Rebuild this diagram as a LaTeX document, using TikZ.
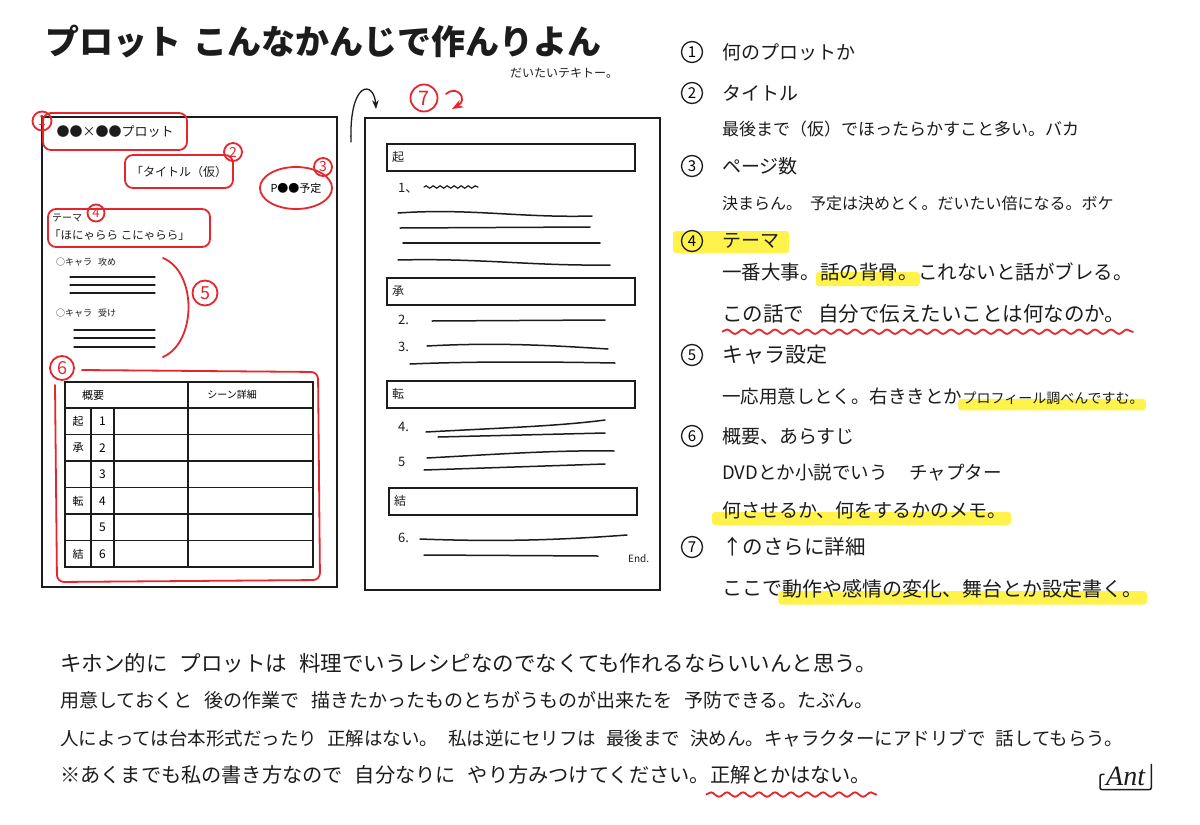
\documentclass[tikz,border=0pt]{standalone}
\usepackage{fontspec}
\setmainfont{Noto Sans CJK JP}
\newfontfamily\signfont{Liberation Serif}
\usetikzlibrary{arrows.meta,positioning,calc,decorations.pathmorphing,shapes.geometric,backgrounds}
\definecolor{PenRed}{HTML}{E6262C}
\definecolor{MarkYellow}{HTML}{FFF24A}
\definecolor{InkBlack}{HTML}{1C1C1C}
\newcommand{\fs}[1]{\fontsize{#1}{#1}\selectfont}

\begin{document}
\begin{tikzpicture}[x=1pt,y=-1pt,>=Stealth,
  ink/.style={draw=InkBlack,line width=1.5pt,line cap=round},
  redpen/.style={draw=PenRed,line width=1.8pt,line cap=round,rounded corners=7pt},
  redbox/.style={draw=PenRed,line width=1.8pt,rounded corners=8pt,text=InkBlack,inner sep=0pt},
  txt/.style={inner sep=0pt,anchor=west,text=InkBlack,font=\fs{19}},
  cnum/.style={circle,draw=InkBlack,line width=1.3pt,minimum size=21pt,inner sep=0pt,font=\fs{15}},
  rnum/.style={circle,draw=PenRed,text=PenRed,line width=1.8pt,minimum size=19pt,inner sep=0pt,font=\fs{14}},
  pagebox/.style={draw=InkBlack,line width=1.8pt,inner sep=0pt},
  secbox/.style={draw=InkBlack,line width=1.5pt,minimum width=248pt,minimum height=27pt,anchor=north west,inner sep=0pt},
  wavy/.style={draw=PenRed,line width=1.8pt,decorate,decoration={snake,segment length=16pt,amplitude=2.2pt}}
]
\useasboundingbox (0,0) rectangle (1200,825);

\node[txt,font=\fs{34}\bfseries] (title) at (45,42) {プロット\hspace{12pt}こんなかんじで作んりよん};
\node[txt,font=\fs{12}] (sub) at (510,73) {だいたいテキトー。};

\node[pagebox,minimum width=295pt,minimum height=470pt] (pgL) at (189.5,352) {};
\node[pagebox,minimum width=295pt,minimum height=472pt] (pgR) at (512.5,354) {};

\node[redbox,minimum width=144pt,minimum height=37pt,font=\fs{13}] (lplot) at (115,131.5) {●●×●●プロット};
\node[rnum] (n1) at (42,121) {1};
\node[redbox,minimum width=108pt,minimum height=33pt,font=\fs{12}] (ltitle) at (179,171.5) {「タイトル（仮）};
\node[rnum,minimum size=18pt] (n2) at (233,152) {2};
\node[ellipse,draw=PenRed,line width=1.8pt,minimum width=68pt,minimum height=42pt,inner sep=0pt,font=\fs{11}] (lpage) at (296,188) {P●●予定};
\node[rnum,minimum size=18pt] (n3) at (323,167) {3};
\node[redbox,minimum width=162pt,minimum height=38pt] (ltheme) at (129,228) {};
\node[txt,font=\fs{10}] (lthemelab) at (52,218) {テーマ};
\node[rnum,minimum size=17pt,font=\fs{13}] (n4) at (96,213) {4};
\node[txt,font=\fs{11.5}] (lthemetxt) at (49,235) {「ほにゃらら こにゃらら」};
\node[txt,font=\fs{9}] (chara1) at (56,262) {○キャラ\hspace{6pt}攻め};
\foreach \yy in {277,285,293} \draw[ink,line width=1.3pt] (70,\yy) -- (155,\yy);
\node[txt,font=\fs{9}] (chara2) at (56,313) {○キャラ\hspace{6pt}受け};
\foreach \yy in {330,338,347} \draw[ink,line width=1.3pt] (74,\yy) -- (155,\yy);
\draw[redpen] (163,258) .. controls (197,272) and (197,342) .. (163,357);
\node[rnum,minimum size=25pt,font=\fs{18}] (n5) at (205,293) {5};

\node[rnum,minimum size=24pt,font=\fs{18}] (n6) at (62,368) {6};
\draw[redpen] (82,370) -- (318,372) -- (320,580) -- (57,582) -- (55,385);
\draw[ink,line width=1.6pt] (65,382) rectangle (313,567);
\draw[ink] (65,408) -- (313,408);
\foreach \yy in {434.5,461,487.5,514,540.5} \draw[ink,line width=1.3pt] (65,\yy) -- (313,\yy);
\draw[ink] (91,408) -- (91,567) (114,408) -- (114,567) (188,382) -- (188,567);
\node[font=\fs{11}] (hgaiyo) at (93,395) {概要};
\node[font=\fs{10}] (hscene) at (232,395) {シーン詳細};
\foreach \lab/\num [count=\i] in {起/1,承/2,/3,転/4,/5,結/6}{
  \node[font=\fs{11}] (k\i) at (78,{408+26.5*\i-13}) {\lab};
  \node[font=\fs{12}] (c\i) at (102.5,{408+26.5*\i-13}) {\num};
}

\coordinate (arrS) at (351,142);
\coordinate (arrE) at (376,109);
\draw[ink,->,line width=1.3pt] (arrS) .. controls (349,80) and (374,80) .. (arrE);
\node[rnum,minimum size=27pt,font=\fs{20}] (n7) at (424,98) {7};
\coordinate (hookS) at (446,94);
\coordinate (hookE) at (452,109);
\draw[draw=PenRed,line width=1.8pt,line cap=round,->] (hookS) .. controls (458,84) and (468,100) .. (hookE);

\node[secbox] (ski) at (386,143) {};
\node[txt,font=\fs{12},right=6pt of ski.west] (lki) {起};
\node[txt,font=\fs{13}] (p1) at (398,188) {1、};
\draw[ink,line width=1.2pt,decorate,decoration={snake,segment length=7pt,amplitude=1.2pt}] (424,187) -- (478,187);
\draw[ink] (398,213) .. controls (470,208) and (520,218) .. (592,216);
\draw[ink] (400,228) -- (590,227);
\draw[ink] (403,243) -- (600,243);
\draw[ink] (398,260) .. controls (480,258) and (530,266) .. (610,265);
\node[secbox] (sshou) at (386,277) {};
\node[txt,font=\fs{12},right=6pt of sshou.west] (lshou) {承};
\node[txt,font=\fs{13}] (p2) at (398,320) {2.};
\draw[ink] (432,321) -- (605,320);
\node[txt,font=\fs{13}] (p3) at (398,347) {3.};
\draw[ink] (427,346) .. controls (500,342) and (560,346) .. (608,349);
\draw[ink] (410,364) .. controls (480,361) and (560,362) .. (615,363);
\node[secbox] (sten) at (386,380) {};
\node[txt,font=\fs{12},right=6pt of sten.west] (lten) {転};
\node[txt,font=\fs{13}] (p4) at (398,427) {4.};
\draw[ink] (426,432) .. controls (500,428) and (560,426) .. (605,420);
\draw[ink] (438,437) -- (605,433);
\node[txt,font=\fs{13}] (p5) at (398,462) {5};
\draw[ink] (427,458) .. controls (500,454) and (560,450) .. (614,451);
\draw[ink] (424,470) -- (605,464);
\node[secbox] (sketsu) at (388,487) {};
\node[txt,font=\fs{12},right=6pt of sketsu.west] (lketsu) {結};
\node[txt,font=\fs{13}] (p6) at (398,538) {6.};
\draw[ink] (420,539) .. controls (500,542) and (560,540) .. (627,535);
\draw[ink] (424,555) -- (598,556);
\node[txt,font=\fs{10}] (lend) at (628,559) {End.};

\node[cnum] (r1) at (692,52) {1};
\node[txt] (t1) at (722,52) {何のプロットか};
\node[cnum] (r2) at (692,93) {2};
\node[txt] (t2) at (722,93) {タイトル};
\node[txt,font=\fs{17}] (t2a) at (722,129) {最後まで（仮）でほったらかすこと多い。バカ};
\node[cnum] (r3) at (692,166) {3};
\node[txt] (t3) at (722,166) {ページ数};
\node[txt,font=\fs{16}] (t3a) at (722,203) {決まらん。\hspace{8pt}予定は決めとく。だいたい倍になる。ボケ};
\node[cnum] (r4) at (692,241) {4};
\node[txt] (t4) at (722,241) {テーマ};
\node[txt,font=\fs{19.5}] (t4a) at (722,272) {一番大事。};
\node[txt,font=\fs{19.5},right=0pt of t4a] (t4b) {話の背骨。};
\node[txt,font=\fs{19.5},right=0pt of t4b] (t4c) {これないと話がブレる。};
\node[txt,font=\fs{20.5}] (t4d) at (722,314) {この話で\hspace{14pt}自分で伝えたいことは何なのか。};
\draw[wavy] ($(t4d.south west)+(0,8)$) -- ($(t4d.south east)+(8,8)$);
\node[cnum] (r5) at (692,355) {5};
\node[txt,font=\fs{21}] (t5) at (722,355) {キャラ設定};
\node[txt,font=\fs{18.5}] (t5a) at (722,397) {一応用意しとく。右ききとか};
\node[txt,font=\fs{14},base right=0pt of t5a] (t5b) {プロフィール調べんですむ。};
\node[cnum] (r6) at (692,436) {6};
\node[txt] (t6) at (722,436) {概要、あらすじ};
\node[txt,font=\fs{18.5}] (t6a) at (722,473) {DVDとか小説でいう\hspace{22pt}チャプター};
\node[txt] (t6b) at (722,510) {何させるか、何をするかのメモ。};
\node[cnum] (r7) at (692,547) {7};
\node[txt,font=\fs{20.5}] (t7) at (722,547) {↑のさらに詳細};
\node[txt,font=\fs{20}] (t7a) at (722,589) {ここで};
\node[txt,font=\fs{20},right=0pt of t7a] (t7b) {動作や感情の変化、舞台とか設定書く。};

\node[txt,font=\fs{21.5}] (b1) at (60,663) {キホン的に\hspace{12pt}プロットは\hspace{12pt}料理でいうレシピなのでなくても作れるならいいんと思う。};
\node[txt,font=\fs{19}] (b2) at (60,700) {用意しておくと\hspace{12pt}後の作業で\hspace{12pt}描きたかったものとちがうものが出来たを\hspace{12pt}予防できる。たぶん。};
\node[txt,font=\fs{18.5}] (b3) at (60,738) {人によっては台本形式だったり\hspace{10pt}正解はない。\hspace{10pt}私は逆にセリフは\hspace{10pt}最後まで\hspace{10pt}決めん。キャラクターにアドリブで\hspace{10pt}話してもらう。};
\node[txt,font=\fs{20.2}] (b4a) at (60,775) {※あくまでも私の書き方なので\hspace{12pt}自分なりに\hspace{12pt}やり方みつけてください。\hspace{12pt}};
\node[txt,font=\fs{20.2},right=0pt of b4a] (b4b) {正解とかはない。};
\draw[wavy] ($(b4b.south west)+(-4,10)$) -- ($(b4b.south east)+(6,10)$);

\node[txt,font=\signfont\itshape\fs{28}] (sig) at (1106,776) {Ant};
\draw[ink,rounded corners=2pt] ($(sig.north west)+(-2,8)$) -- ($(sig.north west)+(-6,8)$) -- ($(sig.south west)+(-6,4)$) -- ($(sig.south east)+(6,4)$) -- ($(sig.north east)+(6,-2)$);

\begin{scope}[on background layer]
\fill[white] (0,0) rectangle (1200,825);
\fill[MarkYellow,rounded corners=3pt] (673,231) rectangle (789,253);
\fill[MarkYellow,rounded corners=3pt] ($(t4b.west)+(-4,0)$) rectangle ($(t4b.south east)+(2,5)$);
\fill[MarkYellow,rounded corners=3pt] ($(t5b.west)+(-4,0)$) rectangle ($(t5b.south east)+(2,5)$);
\fill[MarkYellow,rounded corners=3pt] ($(t6b.west)+(-10,2)$) rectangle ($(t6b.south east)+(4,6)$);
\fill[MarkYellow,rounded corners=3pt] ($(t7b.west)+(-4,2)$) rectangle ($(t7b.south east)+(4,6)$);
\end{scope}
\end{tikzpicture}
\end{document}
